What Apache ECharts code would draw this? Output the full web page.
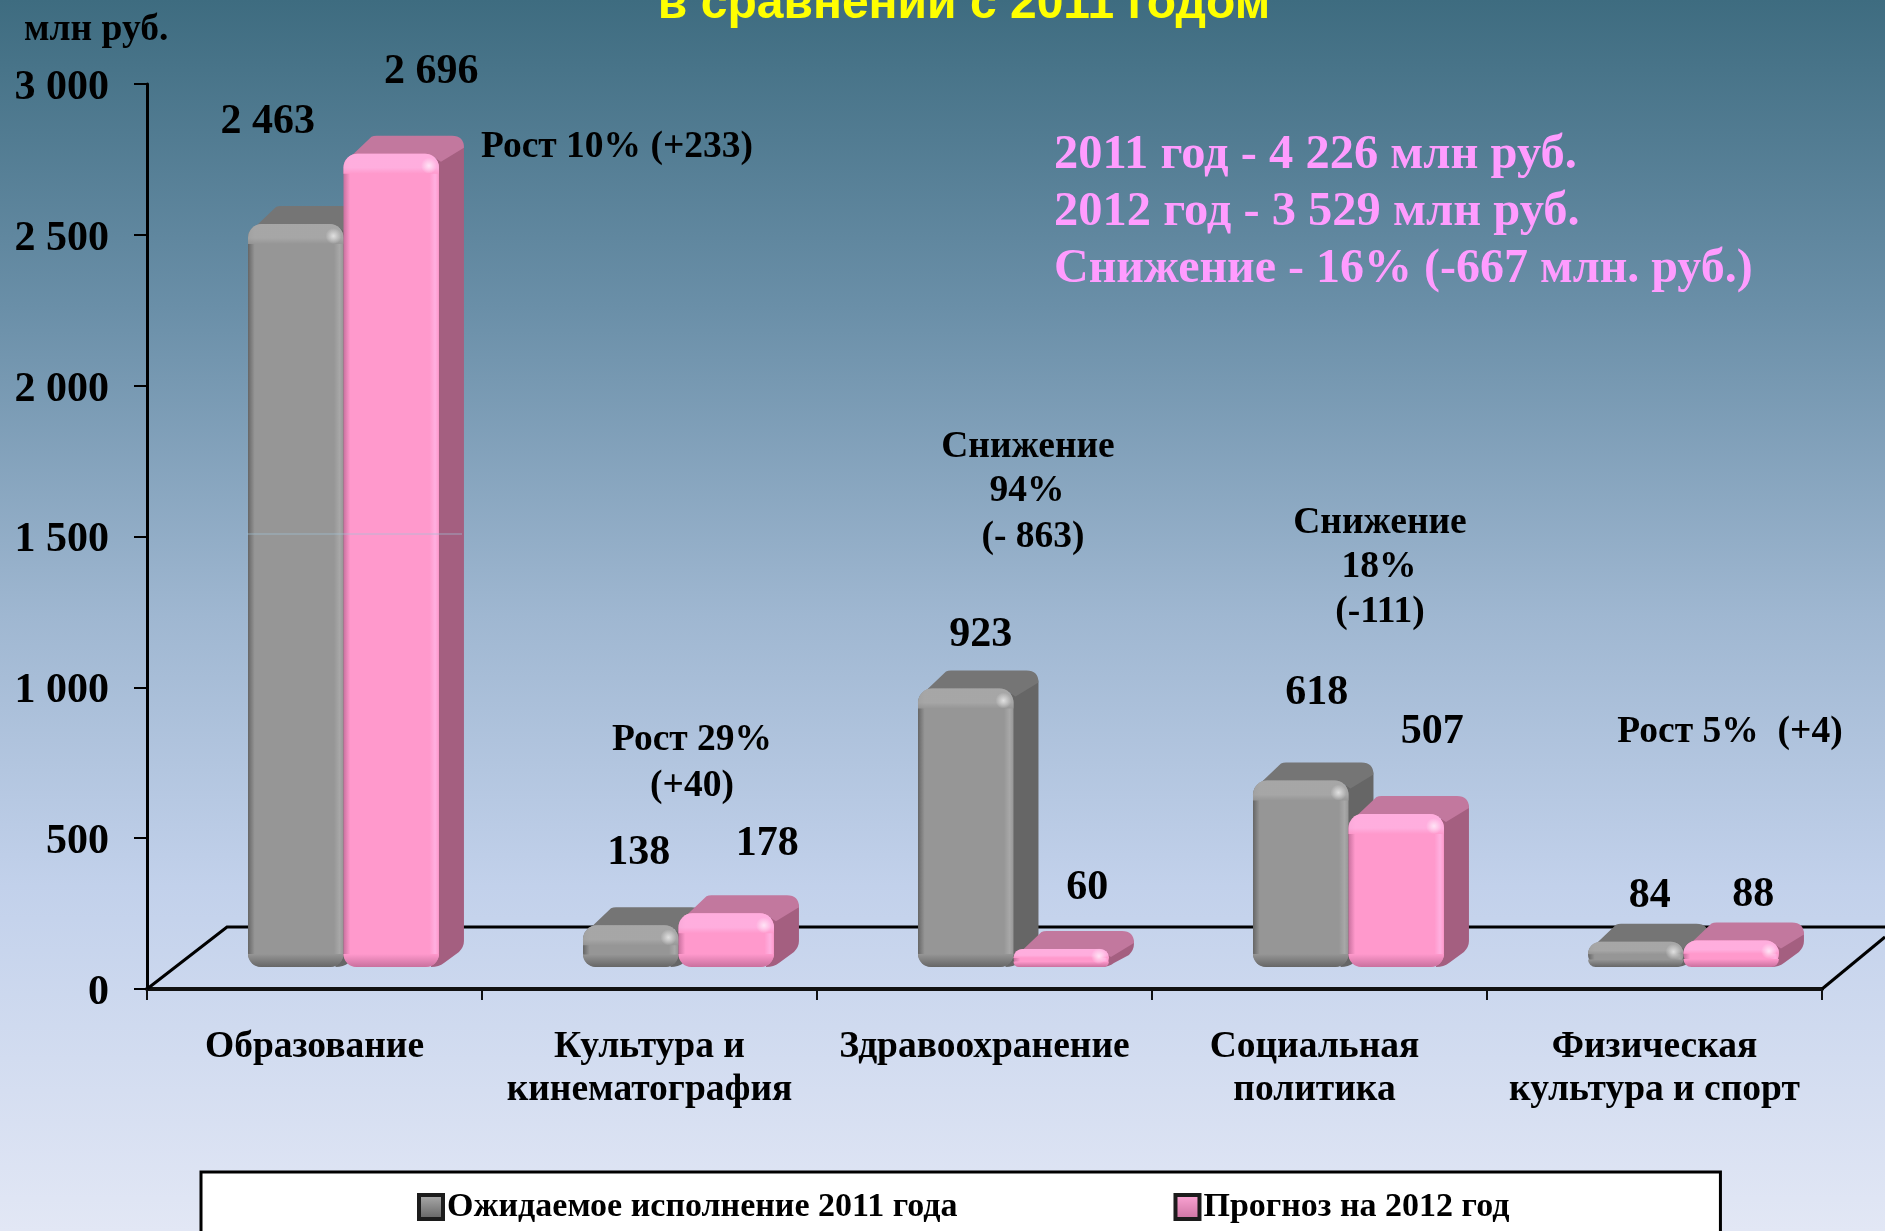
<!DOCTYPE html>
<html><head><meta charset="utf-8">
<style>html,body{margin:0;padding:0;background:#fff}#c{width:1885px;height:1231px}</style>
<script src="https://cdn.jsdelivr.net/npm/echarts@6/dist/echarts.min.js"></script>
</head><body><div id="c"></div>
<script>
const categories = ['Образование','Культура и\nкинематография','Здравоохранение','Социальная\nполитика','Физическая\nкультура и спорт'];
const expected2011 = [2463,138,923,618,84];
const forecast2012 = [2696,178,60,507,88];
const yTicks = [0,500,1000,1500,2000,2500,3000];
const seriesNames = ['Ожидаемое исполнение 2011 года','Прогноз на 2012 год'];
const titleText = 'в сравнении с 2011 годом';
const unitText = 'млн руб.';
const summaryLines = ['2011 год - 4 226 млн руб.','2012 год - 3 529 млн руб.','Снижение - 16% (-667 млн. руб.)'];

// label nudges from the top-centre of each bar
const nudge2011 = [[-28,-102],[8,-72],[15,-53],[16,-87],[14,-46]];
const nudge2012 = [[40,-82],[41,-69],[26,-61],[36,-82],[22,-45]];

const SERIF = '"Liberation Serif","Times New Roman",serif';
const BLACK = '#000';
const PLANE_DY = -22, DEPTH_X = 25, DEPTH_Y = 18, R = 14;
const palette = [
 {front:'#969696',edge:'#666666',light:'#a8a8a8',top:'#757575',side:'#666666',glint:'#e0e0e0'},
 {front:'#FF99CC',edge:'#c9709e',light:'#ffb0e0',top:'#C2789E',side:'#A45F80',glint:'#ffe4f6'}
];
const fmt = v => String(v).replace(/\B(?=(\d{3})+$)/g,' ');

function barRenderer(si, nudges){
  return function(params, api){
    const cat = api.value(0), val = api.value(1);
    const band = api.size([1,0])[0];
    const w = band*0.285;
    const base = api.coord([cat,0]);
    const topPt = api.coord([cat,val]);
    const x = base[0] + band*0.0865 + (si===0 ? -w : 0);
    const yB = base[1] + PLANE_DY, yT = topPt[1] + PLANE_DY;
    const h = yB-yT, c = palette[si], r = Math.min(R,h/2);
    const n = nudges[params.dataIndex];
    const G = (x1,y1,x2,y2,st)=>new echarts.graphic.LinearGradient(x1,y1,x2,y2,st);
    const xr = x+w, bx = xr+DEPTH_X, by = yT-DEPTH_Y;
    const sideLow = Math.max(by+13, yB-DEPTH_Y-8);
    const sidePath = `M${xr-3},${yT+4} L${bx-3},${by+5} Q${bx},${by+8} ${bx},${by+13} L${bx},${sideLow} Q${bx},${sideLow+6} ${bx-5},${sideLow+11} L${xr+5},${yB-4} Q${xr},${yB} ${xr-8},${yB} Z`;
    const topPath = `M${x+7},${yT+3} L${x+DEPTH_X+3},${by+1} Q${x+DEPTH_X+5},${by} ${x+DEPTH_X+8},${by} L${bx-12},${by} Q${bx},${by} ${bx},${by+12} L${xr+2},${yT+8} L${xr-6},${yT+3} Z`;
    const bandT = Math.min(20,h*0.5), bandB = Math.min(13,h*0.3);
    const children = [
      {type:'path',shape:{pathData:sidePath},style:{fill:c.side}},
      {type:'path',shape:{pathData:topPath},style:{fill:c.top}},
      {type:'rect',shape:{x:x,y:yT,width:w,height:h,r:r},style:{fill:G(0,0,1,0,[{offset:0,color:c.edge},{offset:0.07,color:c.front},{offset:0.9,color:c.front},{offset:0.96,color:c.light},{offset:1,color:c.front}])}},
      {type:'rect',shape:{x:x,y:yT,width:w,height:bandT,r:[r,r,0,0]},style:{fill:G(0,0,0,1,[{offset:0,color:c.light},{offset:0.7,color:c.light},{offset:1,color:c.front}]),opacity:0.9}},
      {type:'rect',shape:{x:x,y:yB-bandB,width:w,height:bandB,r:[0,0,r,r]},style:{fill:G(0,0,0,1,[{offset:0,color:c.front},{offset:1,color:c.edge}])}},
      {type:'circle',shape:{cx:xr-10,cy:yT+Math.min(12,h*0.4),r:8},style:{fill:new echarts.graphic.RadialGradient(0.5,0.5,0.5,[{offset:0,color:c.glint},{offset:1,color:c.glint+'00'}])}},
      {type:'text',x:x+w/2+n[0],y:yT+n[1],style:{text:fmt(val),fill:BLACK,font:'bold 42px '+SERIF,align:'center',verticalAlign:'middle'}}
    ];
    return {type:'group',children};
  };
}

const toPairs = arr => arr.map((v,i)=>[i,v]);
const ann = (text,x,y,size,fill,align) => ({type:'text',x,y,z:50,style:{text,fill:fill||BLACK,font:'bold '+(size||37.5)+'px '+SERIF,align:align||'center',verticalAlign:'middle'}});
const axisCategories = categories.map((value,i)=> i===3 ? {value,textStyle:{padding:[0,10,0,0]}} : value);
const PINK_TEXT = '#FF9CFF';

const chart = echarts.init(document.getElementById('c'),null,{renderer:'canvas'});
chart.setOption({
  animation:false,
  backgroundColor:new echarts.graphic.LinearGradient(0,0,0,1,[
    {offset:0,color:'#3E6C80'},{offset:0.25,color:'#6A8FA8'},{offset:0.5,color:'#9FB7D1'},
    {offset:0.72,color:'#C2D1EB'},{offset:1,color:'#E2E7F5'}]),
  title:{text:titleText,left:959,textAlign:'center',top:-24,textStyle:{fontFamily:'"Liberation Sans",Arial,sans-serif',fontWeight:'bold',fontSize:48,color:'#FFFF00'}},
  legend:{
    left:201,top:1172,orient:'horizontal',backgroundColor:'#fff',borderColor:'#000',borderWidth:3,borderRadius:0,
    padding:[18,211,60,216],itemGap:216,itemWidth:24,itemHeight:24,icon:'rect',
    textStyle:{fontFamily:SERIF,fontWeight:'bold',fontSize:34,color:'#000',padding:[0,0,0,-1]},
    data:[
      {name:seriesNames[0],itemStyle:{color:new echarts.graphic.LinearGradient(0,0,0,1,[{offset:0,color:'#b0b0b0'},{offset:1,color:'#5f5f5f'}]),borderColor:'#1c1c1c',borderWidth:4}},
      {name:seriesNames[1],itemStyle:{color:new echarts.graphic.LinearGradient(0,0,0,1,[{offset:0,color:'#ffa8d8'},{offset:1,color:'#c9709e'}]),borderColor:'#1c1c1c',borderWidth:4}}
    ]
  },
  grid:{left:147,right:63,top:84,bottom:242,containLabel:false},
  xAxis:{type:'category',data:axisCategories,boundaryGap:true,
    axisLine:{lineStyle:{color:'#111',width:4}},
    axisTick:{show:true,alignWithLabel:false,length:11,lineStyle:{color:'#111',width:2}},
    axisLabel:{fontFamily:SERIF,fontWeight:'bold',fontSize:37.5,color:'#000',margin:37,lineHeight:43,interval:0}},
  yAxis:{type:'value',min:0,max:3000,interval:500,
    axisLine:{show:true,lineStyle:{color:'#000',width:3}},
    axisTick:{show:true,length:13,lineStyle:{color:'#000',width:2}},
    splitLine:{show:false},
    axisLabel:{color:'#000',margin:38,formatter:v=>`{a|${fmt(v)}}`,
      rich:{a:{fontFamily:SERIF,fontWeight:'bold',fontSize:42,color:'#000',padding:[8,0,0,0]}}}},
  graphic:[
    {type:'polyline',z:1,shape:{points:[[147,989],[227,927],[1885,927]]},style:{stroke:'#000',lineWidth:3,fill:null}},
    {type:'line',z:1,shape:{x1:1822,y1:989,x2:1885,y2:937},style:{stroke:'#000',lineWidth:3}},
    ann(unitText,24,30,37.5,BLACK,'left'),
    ann('Рост 10% (+233)',617,147),
    ann('Рост 29%',692,740),ann('(+40)',692,786),
    ann('Снижение',1028,447),ann('94%',1027,491),ann('(- 863)',1033,537),
    ann('Снижение',1380,523),ann('18%',1379,567),ann('(-111)',1380,612),
    ann('Рост 5%  (+4)',1730,732),
    ann(summaryLines[0],1054,155,48.5,PINK_TEXT,'left'),
    ann(summaryLines[1],1054,212,48.5,PINK_TEXT,'left'),
    ann(summaryLines[2],1054,270,48,PINK_TEXT,'left'),
    {type:'line',z:40,shape:{x1:247,y1:534,x2:462,y2:534},style:{stroke:'#9fc2d6',lineWidth:1,opacity:0.7}}
  ],
  series:[
    {type:'custom',name:seriesNames[0],z:5,data:toPairs(expected2011),encode:{x:0,y:1},renderItem:barRenderer(0,nudge2011),clip:false,itemStyle:{color:'#8c8c8c'}},
    {type:'custom',name:seriesNames[1],z:6,data:toPairs(forecast2012),encode:{x:0,y:1},renderItem:barRenderer(1,nudge2012),clip:false,itemStyle:{color:'#FF99CC'}}
  ]
});
</script></body></html>
